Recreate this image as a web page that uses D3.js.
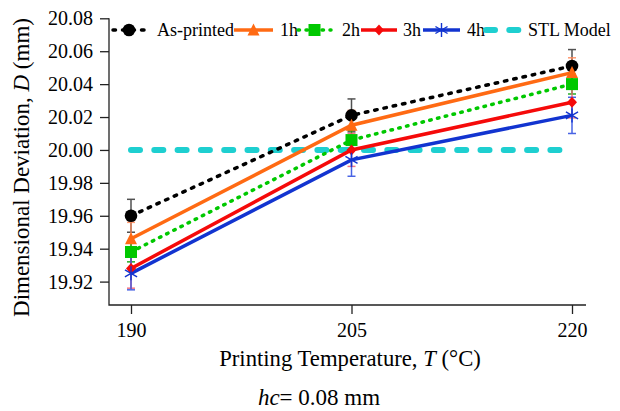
<!DOCTYPE html>
<html>
<head>
<meta charset="utf-8">
<script src="https://cdn.jsdelivr.net/npm/d3@7/dist/d3.min.js"></script>
<style>
  html, body { margin: 0; padding: 0; background: #fff; }
  svg { display: block; }
  text { font-family: "Liberation Serif", "Times New Roman", serif; fill: #000; }
</style>
</head>
<body>
<svg id="chart" width="620" height="411"></svg>
<script>
// ---- data ----
const temps = [190, 205, 220];
const yTicks = [19.92, 19.94, 19.96, 19.98, 20.00, 20.02, 20.04, 20.06, 20.08];
const seriesNames = ["As-printed", "1h", "2h", "3h", "4h", "STL Model"];
const asPrinted = [19.960, 20.021, 20.051];
const asPrintedErr = [0.010, 0.010, 0.010];
const h1 = [19.946, 20.015, 20.047];
const h1Err = [0.010, 0.009, 0.009];
const h2 = [19.938, 20.006, 20.040];
const h2Err = [0.006, 0.006, 0.006];
const h3 = [19.928, 20.000, 20.029];
const h3Err = [0.012, 0.010, 0.0095];
const h4 = [19.925, 19.994, 20.021];
const h4Err = [0.010, 0.010, 0.011];
const stl = [20.00, 20.00, 20.00];

// ---- styles ----
const styles = [
  {name: seriesNames[0], vals: asPrinted, err: asPrintedErr, color: "#000000", width: 3.5, dash: "2.5,7", cap: "round", marker: "circle", errColor: "#333"},
  {name: seriesNames[1], vals: h1, err: h1Err, color: "#FF6A13", width: 3.5, dash: null, cap: "butt", marker: "triangle", errColor: "#FF8A5A"},
  {name: seriesNames[2], vals: h2, err: h2Err, color: "#00C800", width: 3.5, dash: "1.5,6.5", cap: "round", marker: "square", errColor: "#00A000"},
  {name: seriesNames[3], vals: h3, err: h3Err, color: "#F50A0A", width: 3.5, dash: null, cap: "butt", marker: "diamond", errColor: "#F06070"},
  {name: seriesNames[4], vals: h4, err: h4Err, color: "#1234D0", width: 3.5, dash: null, cap: "butt", marker: "star", errColor: "#2A4AE0"}
];
const stlStyle = {name: seriesNames[5], vals: stl, color: "#1ECFD0", width: 6, dash: "9,14.3", cap: "round"};

const svg = d3.select("#chart");
const x = d3.scaleLinear().domain([190, 220]).range([131, 572]);
const y = d3.scaleLinear().domain([19.92, 20.08]).range([281.6, 18.3]);
const axisLeftX = 109, axisBottomY = 305, axisRightX = 586;

// ---- axes ----
const gy = svg.append("g").attr("transform", `translate(${axisLeftX},0)`)
  .call(d3.axisLeft(y).tickValues(yTicks).tickSize(9).tickPadding(7).tickFormat(d3.format(".2f")));
gy.select(".domain").remove();
gy.selectAll(".tick line").attr("stroke", "#222").attr("stroke-width", 1.3);
gy.selectAll(".tick text").attr("font-size", 20).attr("font-family", "Liberation Serif, serif").attr("dy", "0.33em").attr("fill", "#000");

const gx = svg.append("g").attr("transform", `translate(0,${axisBottomY})`)
  .call(d3.axisBottom(x).tickValues(temps).tickSize(9).tickPadding(10).tickFormat(d3.format("d")));
gx.select(".domain").remove();
gx.selectAll(".tick line").attr("stroke", "#222").attr("stroke-width", 1.3);
gx.selectAll(".tick text").attr("font-size", 20).attr("font-family", "Liberation Serif, serif").attr("fill", "#000").attr("dy", "0.71em").attr("y", 17.5);

svg.append("path")
  .attr("d", `M${axisLeftX},${y(20.08)}V${axisBottomY}H${axisRightX}`)
  .attr("fill", "none").attr("stroke", "#222").attr("stroke-width", 1.3);

// ---- titles ----
const yt = svg.append("text")
  .attr("transform", `translate(29,167.5) rotate(-90)`)
  .attr("text-anchor", "middle").attr("font-size", 23);
yt.append("tspan").text("Dimensional Deviation, ");
yt.append("tspan").attr("font-style", "italic").text("D");
yt.append("tspan").text(" (mm)");

const xt = svg.append("text")
  .attr("x", 350).attr("y", 366).attr("text-anchor", "middle").attr("font-size", 22.7);
xt.append("tspan").text("Printing Temperature, ");
xt.append("tspan").attr("font-style", "italic").text("T");
xt.append("tspan").text(" (\u00B0C)");

const ht = svg.append("text")
  .attr("x", 319).attr("y", 404.5).attr("text-anchor", "middle").attr("font-size", 23);
ht.append("tspan").attr("font-style", "italic").text("hc");
ht.append("tspan").text("= 0.08 mm");

// ---- marker drawing ----
function drawMarker(g, type, cx, cy, color) {
  if (type === "circle") {
    g.append("circle").attr("cx", cx).attr("cy", cy).attr("r", 6.3).attr("fill", color);
  } else if (type === "triangle") {
    const s = 12;
    g.append("path").attr("d", `M${cx},${cy - s * 0.55}L${cx + s / 2},${cy + s * 0.45}L${cx - s / 2},${cy + s * 0.45}Z`).attr("fill", color);
  } else if (type === "square") {
    g.append("rect").attr("x", cx - 6).attr("y", cy - 6).attr("width", 12).attr("height", 12).attr("fill", color);
  } else if (type === "diamond") {
    g.append("path").attr("d", `M${cx},${cy - 5.5}L${cx + 5},${cy}L${cx},${cy + 5.5}L${cx - 5},${cy}Z`).attr("fill", color);
  } else if (type === "star") {
    const r = 7;
    const angles = [90, 30, 150];
    angles.forEach(a => {
      const rad = a * Math.PI / 180;
      g.append("line")
        .attr("x1", cx - r * Math.cos(rad)).attr("y1", cy - r * Math.sin(rad))
        .attr("x2", cx + r * Math.cos(rad)).attr("y2", cy + r * Math.sin(rad))
        .attr("stroke", color).attr("stroke-width", 1.4);
    });
  }
}

const line = d3.line().x((d, i) => x(temps[i])).y(d => y(d));

// ---- STL model line ----
svg.append("path").datum(stlStyle.vals).attr("d", line)
  .attr("fill", "none").attr("stroke", stlStyle.color).attr("stroke-width", stlStyle.width)
  .attr("stroke-dasharray", stlStyle.dash).attr("stroke-linecap", stlStyle.cap);

// ---- series lines ----
styles.forEach(s => {
  svg.append("path").datum(s.vals).attr("d", line)
    .attr("fill", "none").attr("stroke", s.color).attr("stroke-width", s.width)
    .attr("stroke-dasharray", s.dash).attr("stroke-linecap", s.cap);
});

// ---- error bars ----
styles.forEach(s => {
  const g = svg.append("g").attr("stroke", s.errColor).attr("stroke-width", 1.5).attr("opacity", 0.85);
  s.vals.forEach((v, i) => {
    const cx = x(temps[i]);
    const y1 = y(v + s.err[i]), y2 = y(v - s.err[i]);
    g.append("line").attr("x1", cx).attr("x2", cx).attr("y1", y1).attr("y2", y2);
    g.append("line").attr("x1", cx - 4).attr("x2", cx + 4).attr("y1", y1).attr("y2", y1);
    g.append("line").attr("x1", cx - 4).attr("x2", cx + 4).attr("y1", y2).attr("y2", y2);
  });
});

// ---- markers ----
styles.forEach(s => {
  const g = svg.append("g");
  s.vals.forEach((v, i) => drawMarker(g, s.marker, x(temps[i]), y(v), s.color));
});

// ---- legend ----
const legendY = 30;
const legendLayout = [
  {x1: 113, x2: 145, tx: 157},
  {x1: 234, x2: 273, tx: 280},
  {x1: 298, x2: 331, tx: 342},
  {x1: 361, x2: 397, tx: 403},
  {x1: 423, x2: 460, tx: 467},
  {x1: 486, x2: 519, tx: 528}
];
const legendItems = styles.concat([stlStyle]);
legendItems.forEach((s, i) => {
  const L = legendLayout[i];
  const g = svg.append("g");
  g.append("line").attr("x1", L.x1).attr("x2", L.x2).attr("y1", legendY).attr("y2", legendY)
    .attr("stroke", s.color).attr("stroke-width", s.width)
    .attr("stroke-dasharray", s.dash).attr("stroke-linecap", s.cap);
  if (s.marker) drawMarker(g, s.marker, (L.x1 + L.x2) / 2, legendY, s.color);
  g.append("text").attr("x", L.tx).attr("y", legendY + 6).attr("font-size", 18).text(s.name);
});
</script>
</body>
</html>
